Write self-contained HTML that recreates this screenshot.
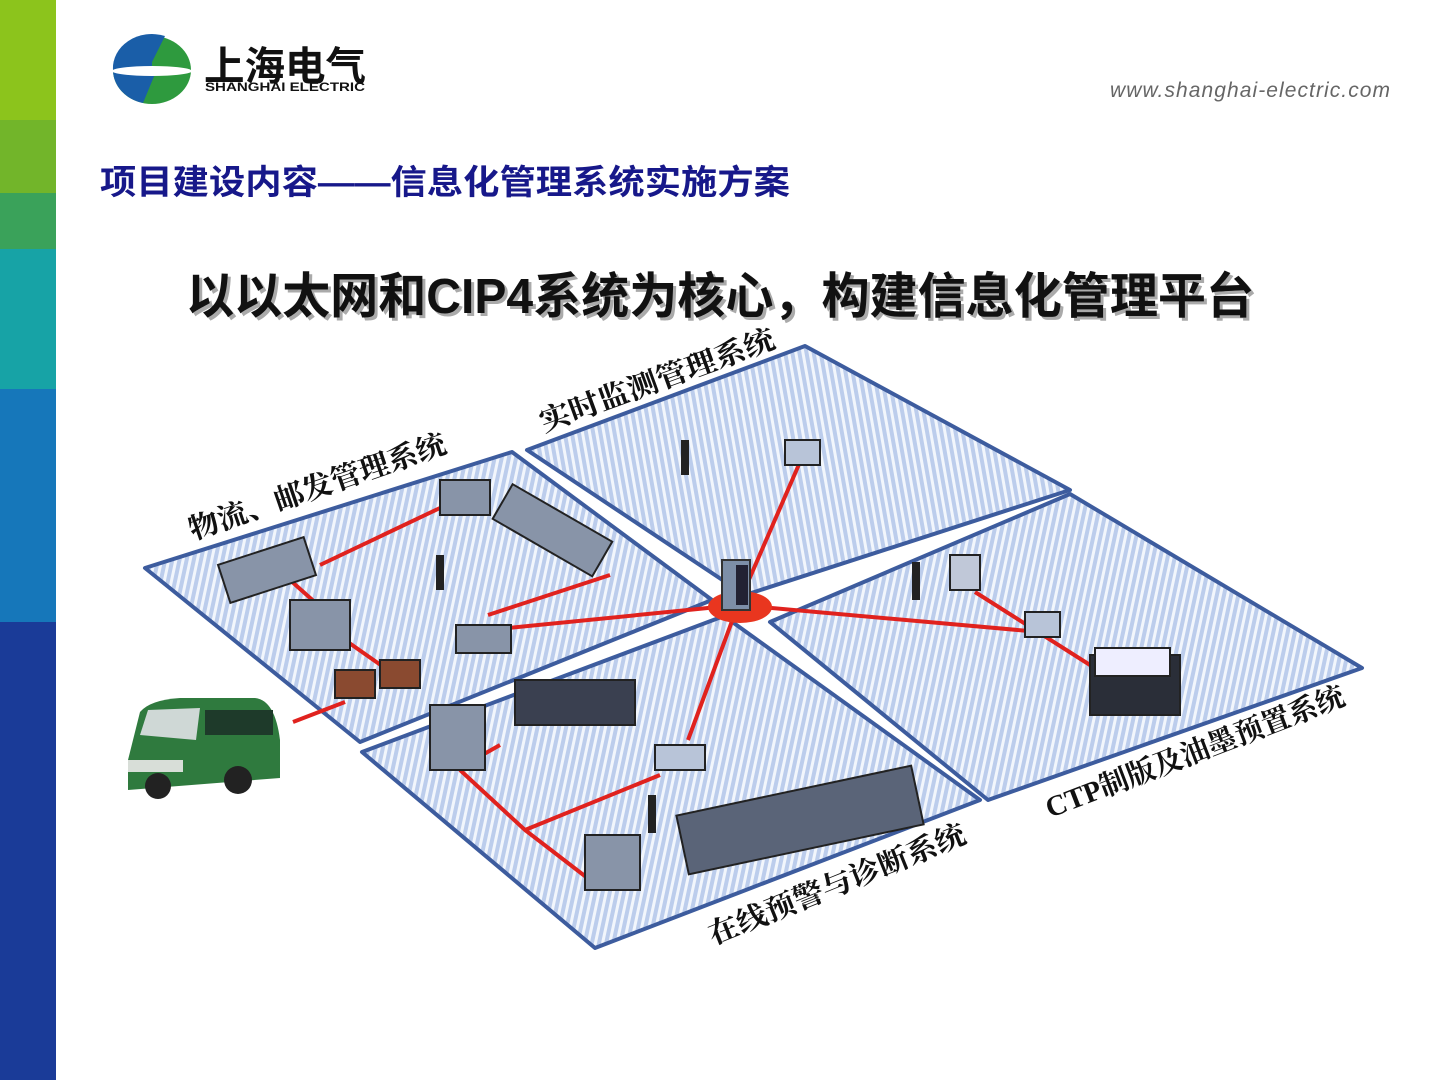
<!DOCTYPE html>
<html><head><meta charset="utf-8"><style>
html,body{margin:0;padding:0;background:#fff;}
body{width:1440px;height:1080px;overflow:hidden;position:relative;font-family:"Liberation Sans","Noto Sans CJK SC",sans-serif;}
</style></head><body>
<svg width="1440" height="1080" viewBox="0 0 1440 1080" xmlns="http://www.w3.org/2000/svg" style="position:absolute;left:0;top:0">
<defs>
<pattern id="st" width="7" height="7" patternUnits="userSpaceOnUse" patternTransform="rotate(12)">
<rect width="7" height="7" fill="#bccdec"/><rect width="3" height="7" fill="#f2f6fc"/>
</pattern>
<pattern id="st2" width="7" height="7" patternUnits="userSpaceOnUse" patternTransform="rotate(-10)">
<rect width="7" height="7" fill="#bccdec"/><rect width="3" height="7" fill="#f2f6fc"/>
</pattern>
</defs>
<rect x="0" y="0" width="56" height="120" fill="#8cc41c"/>
<rect x="0" y="120" width="56" height="73" fill="#72b52a"/>
<rect x="0" y="193" width="56" height="56" fill="#3aa25a"/>
<rect x="0" y="249" width="56" height="140" fill="#17a3a6"/>
<rect x="0" y="389" width="56" height="233" fill="#1677ba"/>
<rect x="0" y="622" width="56" height="458" fill="#1a3b98"/>
<ellipse cx="152" cy="70" rx="39" ry="34" fill="#2e9a3e"/>
<path d="M152 36 A39 34 0 0 0 125 92 L152 70 Z" fill="#1a5ea8"/>
<path d="M113 70 A39 34 0 0 1 165 36 L150 66 L113 70 Z" fill="#1a5ea8"/>
<path d="M113 70 A39 34 0 0 0 143 103 L155 74 Z" fill="#1a5ea8"/>
<ellipse cx="152" cy="71" rx="40" ry="5" fill="#fff"/>
<text x="204" y="80" font-size="40" font-weight="bold" fill="#111" textLength="162" lengthAdjust="spacingAndGlyphs" font-family="Liberation Sans,Noto Sans CJK SC,sans-serif">上海电气</text>
<text x="205" y="91" font-size="12" font-weight="bold" fill="#111" textLength="160" lengthAdjust="spacingAndGlyphs">SHANGHAI ELECTRIC</text>
<text x="1110" y="97" font-size="21" font-style="italic" fill="#666" textLength="280">www.shanghai-electric.com</text>
<text x="100" y="194" font-size="34" font-weight="bold" fill="#17188a" textLength="690" lengthAdjust="spacingAndGlyphs" font-family="Liberation Sans,Noto Sans CJK SC,sans-serif">项目建设内容——信息化管理系统实施方案</text>
<text x="189" y="316" font-size="49" font-weight="bold" fill="#aaa" textLength="1068" lengthAdjust="spacingAndGlyphs" font-family="Liberation Sans,Noto Sans CJK SC,sans-serif">以以太网和CIP4系统为核心，构建信息化管理平台</text>
<text x="186" y="313" font-size="49" font-weight="bold" fill="#111" textLength="1068" lengthAdjust="spacingAndGlyphs" font-family="Liberation Sans,Noto Sans CJK SC,sans-serif">以以太网和CIP4系统为核心，构建信息化管理平台</text>
<g stroke="#3d5c9e" stroke-width="4" stroke-linejoin="round">
<polygon points="145,568 512,452 712,600 360,742" fill="url(#st)"/>
<polygon points="527,450 805,346 1070,490 745,595" fill="url(#st2)"/>
<polygon points="770,622 1070,494 1362,668 988,800" fill="url(#st)"/>
<polygon points="362,752 724,616 980,800 595,948" fill="url(#st)"/>
</g>
<g stroke="#e0221e" stroke-width="4" fill="none">
<line x1="738" y1="605" x2="800" y2="462"/>
<line x1="738" y1="605" x2="488" y2="630"/>
<line x1="738" y1="605" x2="688" y2="740"/>
<line x1="738" y1="605" x2="1040" y2="632"/>
<line x1="320" y1="565" x2="440" y2="508"/>
<line x1="290" y1="580" x2="318" y2="605"/>
<line x1="345" y1="640" x2="385" y2="668"/>
<line x1="293" y1="722" x2="345" y2="702"/>
<line x1="488" y1="615" x2="610" y2="575"/>
<line x1="975" y1="592" x2="1090" y2="665"/>
<polyline points="460,770 525,830 590,880"/>
<line x1="525" y1="830" x2="660" y2="775"/>
<line x1="470" y1="762" x2="500" y2="745"/>
<line x1="595" y1="885" x2="640" y2="870"/>
</g>
<ellipse cx="740" cy="607" rx="32" ry="16" fill="#e9361f"/>
<rect x="722" y="560" width="28" height="50" fill="#7d8fa8" stroke="#333" stroke-width="2"/>
<rect x="736" y="565" width="12" height="40" fill="#223"/>
<g fill="#8894a8" stroke="#222" stroke-width="2">
<rect x="222" y="550" width="90" height="40" transform="rotate(-18 267 570)"/>
<rect x="290" y="600" width="60" height="50"/>
<rect x="335" y="670" width="40" height="28" fill="#8a4a30"/>
<rect x="380" y="660" width="40" height="28" fill="#8a4a30"/>
<rect x="440" y="480" width="50" height="35"/>
<rect x="495" y="510" width="115" height="40" transform="rotate(30 552 530)"/>
<rect x="456" y="625" width="55" height="28"/>
<rect x="430" y="705" width="55" height="65"/>
<rect x="515" y="680" width="120" height="45" fill="#3a4050"/>
<rect x="585" y="835" width="55" height="55"/>
<rect x="680" y="790" width="240" height="60" fill="#5a6478" transform="rotate(-12 800 820)"/>
<rect x="655" y="745" width="50" height="25" fill="#b8c4d8"/>
<rect x="785" y="440" width="35" height="25" fill="#b8c4d8"/>
<rect x="950" y="555" width="30" height="35" fill="#c0c8d8"/>
<rect x="1025" y="612" width="35" height="25" fill="#b8c4d8"/>
<rect x="1090" y="655" width="90" height="60" fill="#2a2e38"/>
<rect x="1095" y="648" width="75" height="28" fill="#eef"/>
</g>
<g fill="#222">
<rect x="681" y="440" width="8" height="35"/>
<rect x="436" y="555" width="8" height="35"/>
<rect x="912" y="562" width="8" height="38"/>
<rect x="648" y="795" width="8" height="38"/>
</g>
<path d="M128 760 L140 712 Q150 700 180 698 L255 698 Q275 700 280 740 L280 778 L128 790 Z" fill="#2f7a3e"/>
<path d="M140 735 L148 710 L200 708 L196 740 Z" fill="#cfd8d6"/>
<rect x="205" y="710" width="68" height="25" fill="#1e3a2a"/>
<circle cx="158" cy="786" r="13" fill="#222"/><circle cx="238" cy="780" r="14" fill="#222"/>
<rect x="128" y="760" width="55" height="12" fill="#d8ded8"/>
<g font-family="Liberation Serif,Noto Serif CJK SC,serif" font-weight="bold" font-size="29" fill="#111">
<text transform="translate(544,432) rotate(-20)" textLength="248" lengthAdjust="spacingAndGlyphs">实时监测管理系统</text>
<text transform="translate(193,540) rotate(-19)" textLength="270" lengthAdjust="spacingAndGlyphs">物流、邮发管理系统</text>
<text transform="translate(1050,818) rotate(-21)" textLength="318" lengthAdjust="spacingAndGlyphs">CTP制版及油墨预置系统</text>
<text transform="translate(713,945) rotate(-22)" textLength="275" lengthAdjust="spacingAndGlyphs">在线预警与诊断系统</text>
</g>
</svg>
</body></html>
